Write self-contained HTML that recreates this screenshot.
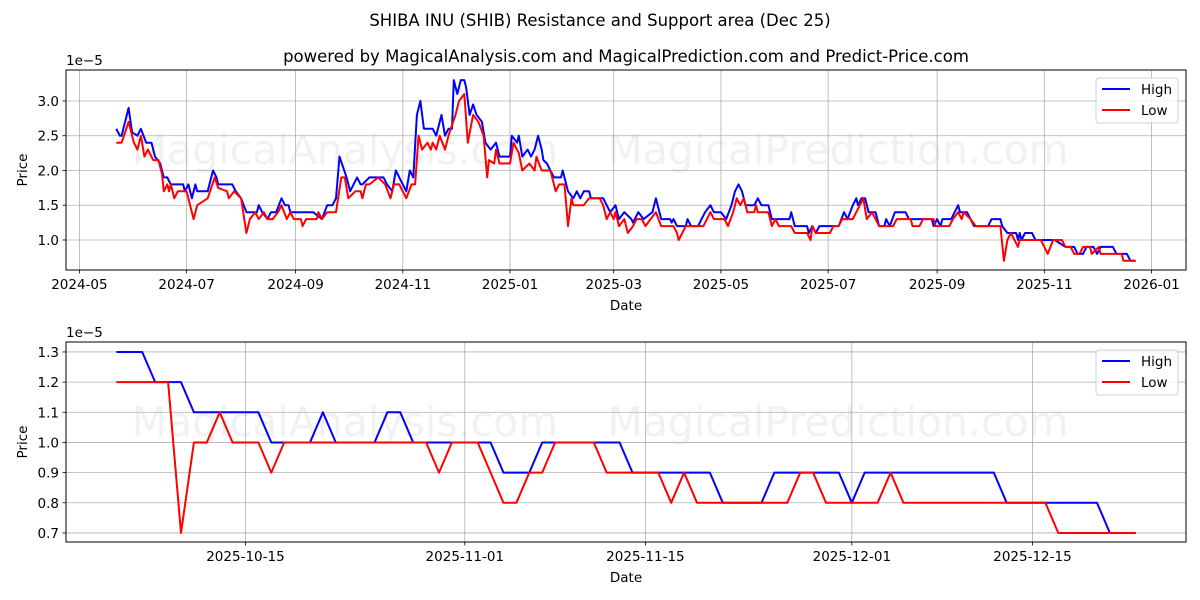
<!DOCTYPE html>
<html><head><meta charset="utf-8">
<style>
html,body{margin:0;padding:0;background:#fff;}
svg{display:block;font-family:"DejaVu Sans","Liberation Sans",sans-serif;}
</style></head>
<body>
<svg id="chart" width="1200" height="600" viewBox="0 0 1200 600" xmlns="http://www.w3.org/2000/svg">
<rect x="0" y="0" width="1200" height="600" fill="#fff"/>
<text x="600" y="26" text-anchor="middle" font-size="16.5">SHIBA INU (SHIB) Resistance and Support area (Dec 25)</text>
<text x="626" y="62" text-anchor="middle" font-size="16.5">powered by MagicalAnalysis.com and MagicalPrediction.com and Predict-Price.com</text>
<g id="top"></g>
<g id="bot"></g>
</svg>
<script>
// ---- Top chart data (days since 2024-05-01, values x1e-5) ----
const topHighDays=[21,23,24,28,30,33,35,38,41,43,46,48,50,52,59,60,62,64,66,67,73,76,78,79,85,87,89,92,95,101,102,104,107,109,112,115,117,119,120,133,138,141,144,146,148,152,154,158,160,161,165,173,175,178,180,182,184,186,188,190,192,194,196,201,203,206,208,210,212,213,215,217,219,220,222,224,226,229,231,234,237,239,245,246,249,250,252,255,257,259,261,263,264,266,268,270,274,275,278,281,283,285,287,290,291,298,300,302,305,307,310,314,315,318,321,326,328,331,336,337,338,340,345,346,348,352,354,356,359,361,365,368,371,373,375,377,379,384,386,388,392,394,404,405,407,414,415,417,419,421,432,435,437,440,442,443,445,447,449,453,455,458,459,461,464,470,472,485,486,488,490,491,496,500,501,505,507,509,517,519,524,525,528,533,534,535,536,538,542,544,555,561,566,568,571,573,577,579,581,588,590,596,598,601];
const topHighVals=[2.6,2.5,2.5,2.9,2.55,2.5,2.6,2.4,2.4,2.2,2.1,1.9,1.9,1.8,1.8,1.7,1.8,1.6,1.8,1.7,1.7,2.0,1.9,1.8,1.8,1.8,1.7,1.6,1.4,1.4,1.5,1.4,1.3,1.4,1.4,1.6,1.5,1.5,1.4,1.4,1.3,1.5,1.5,1.6,2.2,1.9,1.7,1.9,1.8,1.8,1.9,1.9,1.8,1.7,2.0,1.9,1.8,1.7,2.0,1.9,2.8,3.0,2.6,2.6,2.5,2.8,2.5,2.6,2.6,3.3,3.1,3.3,3.3,3.2,2.8,2.95,2.8,2.7,2.4,2.3,2.4,2.2,2.2,2.5,2.4,2.5,2.2,2.3,2.2,2.3,2.5,2.3,2.15,2.1,2.0,1.9,1.9,2.0,1.7,1.6,1.7,1.6,1.7,1.7,1.6,1.6,1.5,1.4,1.5,1.3,1.4,1.3,1.25,1.4,1.3,1.4,1.6,1.3,1.3,1.25,1.3,1.2,1.2,1.3,1.2,1.2,1.3,1.4,1.5,1.4,1.4,1.3,1.5,1.7,1.8,1.7,1.5,1.5,1.6,1.5,1.5,1.3,1.3,1.4,1.2,1.2,1.1,1.2,1.1,1.2,1.2,1.4,1.3,1.5,1.6,1.5,1.6,1.6,1.4,1.4,1.2,1.2,1.3,1.2,1.4,1.4,1.3,1.3,1.2,1.3,1.2,1.3,1.3,1.5,1.4,1.4,1.3,1.2,1.2,1.3,1.3,1.2,1.1,1.1,1.0,1.1,1.0,1.1,1.1,1.0,1.0,0.9,0.9,0.8,0.8,0.9,0.9,0.8,0.9,0.9,0.8,0.8,0.7,0.7];
const topLowDays=[21,24,28,31,33,35,37,39,42,45,47,48,50,51,52,54,56,61,65,67,73,77,79,84,85,88,92,95,97,100,102,105,107,110,113,115,118,120,122,126,127,129,135,136,138,141,146,149,151,153,157,160,161,163,165,170,174,177,179,182,186,189,191,193,195,198,200,201,203,205,208,210,214,216,219,221,224,227,230,232,233,236,237,239,245,247,250,252,256,259,260,263,268,271,273,276,278,280,281,287,290,296,298,300,302,304,305,307,310,312,315,317,320,322,325,328,331,338,340,341,343,345,355,359,361,367,369,372,374,376,378,380,384,385,386,392,394,396,398,405,407,414,416,417,419,427,429,432,434,440,442,444,446,448,451,455,463,465,473,474,478,480,486,487,495,497,500,502,503,507,510,524,526,528,530,534,535,547,549,551,554,559,561,564,566,569,571,575,576,580,581,593,594,601];
const topLowVals=[2.4,2.4,2.7,2.4,2.3,2.5,2.2,2.3,2.15,2.15,1.95,1.7,1.8,1.7,1.8,1.6,1.7,1.7,1.3,1.5,1.6,1.9,1.75,1.7,1.6,1.7,1.6,1.1,1.3,1.4,1.3,1.4,1.3,1.3,1.4,1.5,1.3,1.4,1.3,1.3,1.2,1.3,1.3,1.4,1.3,1.4,1.4,1.9,1.9,1.6,1.7,1.7,1.6,1.8,1.8,1.9,1.8,1.6,1.8,1.8,1.6,1.8,1.8,2.5,2.3,2.4,2.3,2.4,2.3,2.5,2.3,2.5,2.8,3.0,3.1,2.4,2.8,2.7,2.5,1.9,2.15,2.1,2.3,2.1,2.1,2.4,2.25,2.0,2.1,2.0,2.2,2.0,2.0,1.7,1.8,1.8,1.2,1.6,1.5,1.5,1.6,1.6,1.5,1.3,1.4,1.3,1.4,1.2,1.3,1.1,1.2,1.3,1.3,1.2,1.3,1.4,1.2,1.2,1.1,1.0,1.1,1.2,1.2,1.4,1.3,1.3,1.2,1.4,1.6,1.5,1.6,1.4,1.4,1.5,1.4,1.4,1.2,1.3,1.2,1.2,1.1,1.1,1.0,1.2,1.1,1.1,1.2,1.2,1.3,1.3,1.4,1.5,1.6,1.3,1.4,1.2,1.2,1.3,1.3,1.2,1.2,1.3,1.3,1.2,1.2,1.3,1.4,1.3,1.4,1.3,1.2,1.2,0.7,1.0,1.1,0.9,1.0,1.0,0.9,0.8,1.0,1.0,0.9,0.9,0.8,0.8,0.9,0.9,0.8,0.9,0.8,0.8,0.7,0.7];
const topXTickDays=[0,61,123,184,245,304,365,426,488,549,610];
const topXTickLabels=["2024-05","2024-07","2024-09","2024-11","2025-01","2025-03","2025-05","2025-07","2025-09","2025-11","2026-01"];
const topYTicks=[1.0,1.5,2.0,2.5,3.0];
// ---- Bottom chart data (day index from 2025-10-05) ----
const botHigh=[1.3,1.3,1.3,1.2,1.2,1.2,1.1,1.1,1.1,1.1,1.1,1.1,1.0,1.0,1.0,1.0,1.1,1.0,1.0,1.0,1.0,1.1,1.1,1.0,1.0,1.0,1.0,1.0,1.0,1.0,0.9,0.9,0.9,1.0,1.0,1.0,1.0,1.0,1.0,1.0,0.9,0.9,0.9,0.9,0.9,0.9,0.9,0.8,0.8,0.8,0.8,0.9,0.9,0.9,0.9,0.9,0.9,0.8,0.9,0.9,0.9,0.9,0.9,0.9,0.9,0.9,0.9,0.9,0.9,0.8,0.8,0.8,0.8,0.8,0.8,0.8,0.8,0.7,0.7,0.7];
const botLow=[1.2,1.2,1.2,1.2,1.2,0.7,1.0,1.0,1.1,1.0,1.0,1.0,0.9,1.0,1.0,1.0,1.0,1.0,1.0,1.0,1.0,1.0,1.0,1.0,1.0,0.9,1.0,1.0,1.0,0.9,0.8,0.8,0.9,0.9,1.0,1.0,1.0,1.0,0.9,0.9,0.9,0.9,0.9,0.8,0.9,0.8,0.8,0.8,0.8,0.8,0.8,0.8,0.8,0.9,0.9,0.8,0.8,0.8,0.8,0.8,0.9,0.8,0.8,0.8,0.8,0.8,0.8,0.8,0.8,0.8,0.8,0.8,0.8,0.7,0.7,0.7,0.7,0.7,0.7,0.7];
const botXTickIdx=[10,27,41,57,71];
const botXTickLabels=["2025-10-15","2025-11-01","2025-11-15","2025-12-01","2025-12-15"];
const botYTicks=[0.7,0.8,0.9,1.0,1.1,1.2,1.3];

const NS="http://www.w3.org/2000/svg";
function mk(tag,attrs,parent){const e=document.createElementNS(NS,tag);for(const k in attrs)e.setAttribute(k,attrs[k]);parent.appendChild(e);return e;}

function panel(g,o){
  const L=66,R=1186,T=o.top,B=o.top+200;
  const sx=d=>L+(d-o.x0)/(o.x1-o.x0)*(R-L);
  const sy=v=>B-(v-o.y0)/(o.y1-o.y0)*(B-T);
  const wm1=mk('text',{x:345,y:T+94,'text-anchor':'middle','font-size':41,fill:'#000','fill-opacity':0.055},g);
  
  
  wm1.textContent='MagicalAnalysis.com';
  const wm2=mk('text',{x:838,y:T+94,'text-anchor':'middle','font-size':41,fill:'#000','fill-opacity':0.055},g);
  
  
  wm2.textContent='MagicalPrediction.com';
  o.yt.forEach(v=>{const y=sy(v);
    const gl=mk('line',{x1:L,x2:R,y1:y,y2:y,stroke:'#b0b0b0','stroke-width':0.8},g);
    
    
    mk('line',{x1:L-3.5,x2:L,y1:y,y2:y,stroke:'#000','stroke-width':0.8},g);
    const t=mk('text',{x:L-7,y:y+5,'text-anchor':'end','font-size':13.5},g);
    
    
    t.textContent=v.toFixed(1);
  });
  o.xt.forEach((d,i)=>{const x=sx(d);
    const gl=mk('line',{x1:x,x2:x,y1:T,y2:B,stroke:'#b0b0b0','stroke-width':0.8},g);
    
    
    mk('line',{x1:x,x2:x,y1:B,y2:B+3.5,stroke:'#000','stroke-width':0.8},g);
    const t=mk('text',{x:x,y:B+19,'text-anchor':'middle','font-size':13.5},g);
    
    
    t.textContent=o.xl[i];
  });
  const line=(xs,vs,col,name)=>{
    const p=mk('polyline',{points:xs.map((d,i)=>sx(d).toFixed(1)+','+sy(vs[i]).toFixed(1)).join(' '),fill:'none',stroke:col,'stroke-width':2,'stroke-linejoin':'round'},g);
    
    
  };
  line(o.hx,o.hv,'#0000ff','high-line');
  line(o.lx,o.lv,'#ff0000','low-line');
  const fr=mk('rect',{x:L,y:T,width:R-L,height:B-T,fill:'none',stroke:'#000','stroke-width':1},g);
  
  
  const ex=mk('text',{x:L,y:T-5,'font-size':13.5},g);
  
  
  ex.textContent='1e\u22125';
  const yl=mk('text',{x:0,y:0,'text-anchor':'middle','font-size':13.5,transform:`translate(27,${(T+B)/2}) rotate(-90)`},g);
  
  
  yl.textContent='Price';
  const xl=mk('text',{x:(L+R)/2,y:B+40,'text-anchor':'middle','font-size':13.5},g);
  
  
  xl.textContent='Date';
  const lg=mk('g',{},g);
  
  
  mk('rect',{x:1096,y:T+8,width:82,height:45,rx:3,fill:'#fff','fill-opacity':0.8,stroke:'#d0d0d0'},lg);
  [['High','#0000ff'],['Low','#ff0000']].forEach((e,i)=>{
    const y=T+19+i*21;
    mk('line',{x1:1102,x2:1130,y1:y,y2:y,stroke:e[1],'stroke-width':2},lg);
    const t=mk('text',{x:1141,y:y+5,'font-size':13.5},lg);
    
    
    t.textContent=e[0];
  });
}
panel(document.getElementById('top'),{top:70,x0:-7.62,x1:629.6,y0:0.568,y1:3.446,yt:topYTicks,xt:topXTickDays,xl:topXTickLabels,hx:topHighDays,hv:topHighVals,lx:topLowDays,lv:topLowVals});
const idx=botHigh.map((_,i)=>i);
panel(document.getElementById('bot'),{top:342,x0:-3.91,x1:82.9,y0:0.670,y1:1.333,yt:botYTicks,xt:botXTickIdx,xl:botXTickLabels,hx:idx,hv:botHigh,lx:idx,lv:botLow});
</script>
</body></html>
